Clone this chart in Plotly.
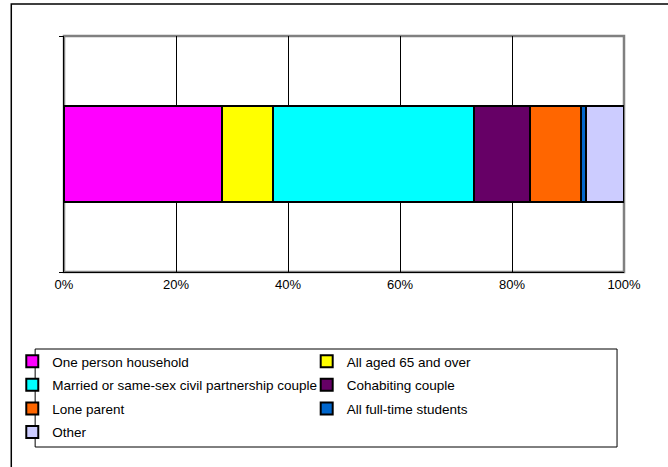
import plotly.graph_objects as go

categories = ["One person household", "All aged 65 and over",
              "Married or same-sex civil partnership couple", "Cohabiting couple",
              "Lone parent", "All full-time students", "Other"]
values = [28.2, 9.2, 35.9, 9.9, 9.1, 1.0, 6.7]
colors = ["#FF00FF", "#FFFF00", "#00FFFF", "#660066", "#FF6600", "#0066CC", "#CCCCFF"]
legend_ids = ["legend", "legend2", "legend", "legend2", "legend", "legend2", "legend"]
bar_label = ["Households"]
tick_vals = [0, 0.2, 0.4, 0.6, 0.8, 1.0]

FONT = "Liberation Sans, Arial, sans-serif"
W, H = 668, 467
ML, MR, MT, MB = 61, 44, 36, 195
PW, PH = W - ML - MR, H - MT - MB

def px_x(p):
    return (p - ML) / PW

def px_y(p):
    return (H - MB - p) / PH

fig = go.Figure()
for name, v, c, lg in zip(categories, values, colors, legend_ids):
    fig.add_trace(go.Bar(
        y=bar_label, x=[v / 100.0], name=name, orientation="h",
        marker=dict(color=c, line=dict(color="black", width=2)),
        width=0.41, legend=lg, legendgroup=name,
    ))

legend_common = dict(
    orientation="v", xanchor="left", yanchor="top",
    bgcolor="rgba(0,0,0,0)", borderwidth=0,
    font=dict(family=FONT, size=13.5, color="black"),
    tracegroupgap=3, itemclick=False, itemdoubleclick=False,
)

fig.update_layout(
    width=W, height=H,
    margin=dict(l=ML, r=MR, t=MT, b=MB),
    paper_bgcolor="white", plot_bgcolor="white",
    barmode="stack",
    showlegend=True,
    legend=dict(x=px_x(9), y=px_y(346), **legend_common),
    legend2=dict(x=px_x(305), y=px_y(346), **legend_common),
    font=dict(family=FONT, size=13, color="black"),
    xaxis=dict(
        range=[0, 1], tickvals=tick_vals, tickformat=".0%",
        showgrid=True, gridcolor="black", gridwidth=1,
        showline=True, linecolor="black", linewidth=1,
        ticks="", zeroline=False,
        tickfont=dict(family=FONT, size=13, color="black"),
        fixedrange=True,
    ),
    yaxis=dict(
        showticklabels=False, ticks="outside", ticklen=4, tickcolor="black",
        tickson="boundaries", showline=True, linecolor="black", linewidth=1,
        showgrid=False, fixedrange=True,
    ),
    shapes=[
        dict(type="rect", xref="paper", yref="paper", x0=0, x1=1, y0=0, y1=1,
             line=dict(color="#808080", width=2.5), layer="below"),
        dict(type="rect", xref="paper", yref="paper",
             x0=px_x(32), x1=px_x(617), y0=px_y(447), y1=px_y(349),
             line=dict(color="black", width=1), fillcolor="rgba(0,0,0,0)", layer="below"),
        dict(type="rect", xref="paper", yref="paper",
             x0=px_x(8), x1=px_x(700), y0=px_y(520), y1=px_y(4),
             line=dict(color="black", width=1.5), fillcolor="rgba(0,0,0,0)", layer="below"),
    ],
)

fig.write_html(
    "out.html",
    config={"displayModeBar": False, "staticPlot": False},
    post_script="document.body.style.margin='0';document.body.style.overflow='hidden';",
)
